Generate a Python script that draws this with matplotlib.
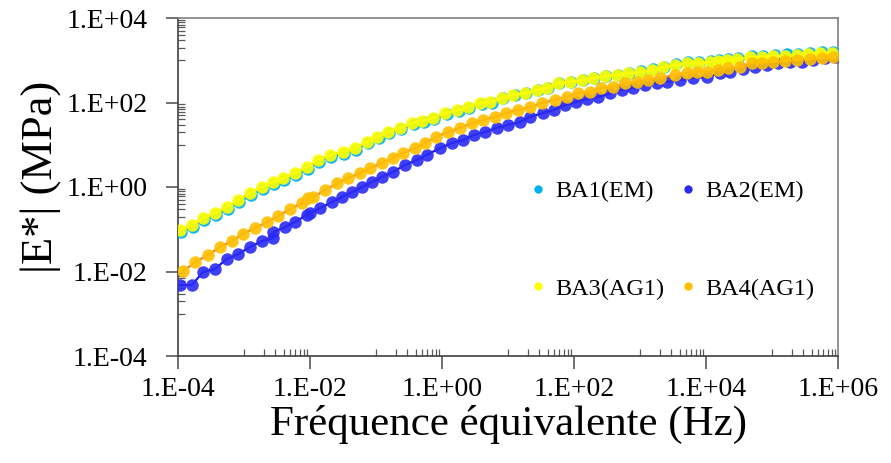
import matplotlib
matplotlib.use("Agg")
import matplotlib.pyplot as plt
from matplotlib.ticker import FixedLocator, NullFormatter
import numpy as np

plt.rcParams['font.family'] = ['Liberation Serif', 'DejaVu Serif']

# values, stored as log10(frequency) / log10(|E*|)
ba3_lf = [-3.97, -3.79, -3.62, -3.44, -3.26, -3.09, -2.91, -2.73, -2.56, -2.41, -2.23, -2.05,
          -1.88, -1.70, -1.50, -1.32, -1.14, -0.98, -0.82, -0.64, -0.45, -0.30, -0.14, 0.05,
          0.23, 0.39, 0.58, 0.73, 0.91, 1.08, 1.26, 1.44, 1.59, 1.76, 1.94, 2.12, 2.29, 2.47,
          2.65, 2.82, 3.00, 3.18, 3.35, 3.53, 3.71, 3.88, 4.06, 4.18, 4.32, 4.47, 4.67, 4.85,
          5.02, 5.20, 5.38, 5.55, 5.73, 5.91]
ba3_le = [-1.02, -0.90, -0.73, -0.62, -0.47, -0.31, -0.14, 0.00, 0.12, 0.21, 0.33, 0.47,
          0.64, 0.76, 0.83, 0.92, 1.07, 1.18, 1.30, 1.40, 1.51, 1.57, 1.63, 1.75,
          1.82, 1.89, 1.99, 2.01, 2.11, 2.18, 2.22, 2.30, 2.35, 2.46, 2.49, 2.53, 2.58, 2.63,
          2.65, 2.70, 2.72, 2.77, 2.83, 2.89, 2.93, 2.93, 2.96, 2.98, 3.01, 3.03, 3.08, 3.08,
          3.10, 3.10, 3.12, 3.15, 3.17, 3.17]

ba1_lf = [-3.95, -3.77, -3.60, -3.42, -3.24, -3.07, -2.89, -2.71, -2.54, -2.39, -2.21, -2.03,
          -1.86, -1.68, -1.48, -1.30, -1.12, -0.96, -0.80, -0.62, -0.43, -0.28, -0.12, 0.07,
          0.25, 0.41, 0.60, 0.75, 0.93, 1.10, 1.28, 1.46, 1.61, 1.78, 1.96, 2.14, 2.31, 2.49,
          2.67, 2.84, 3.02, 3.20, 3.37, 3.55, 3.73, 3.90, 4.08, 4.20, 4.34, 4.49, 4.69, 4.87,
          5.04, 5.22, 5.40, 5.57, 5.75, 5.93]
ba1_le = [-1.06, -0.95, -0.78, -0.67, -0.52, -0.36, -0.19, -0.05, 0.07, 0.16, 0.28, 0.42,
          0.60, 0.72, 0.79, 0.88, 1.04, 1.15, 1.27, 1.37, 1.48, 1.54, 1.60, 1.72,
          1.80, 1.87, 1.97, 2.00, 2.10, 2.17, 2.22, 2.30, 2.35, 2.46, 2.49, 2.53, 2.58, 2.63,
          2.66, 2.71, 2.74, 2.79, 2.85, 2.91, 2.95, 2.96, 2.99, 3.01, 3.04, 3.06, 3.10, 3.11,
          3.13, 3.14, 3.15, 3.17, 3.19, 3.20]

ba2_lf = [-3.97, -3.79, -3.62, -3.44, -3.26, -3.09, -2.91, -2.73, -2.56, -2.56, -2.38, -2.23,
          -2.05, -2.00, -1.85, -1.67, -1.52, -1.36, -1.21, -1.06, -0.91, -0.74, -0.56, -0.38,
          -0.23, -0.03, 0.15, 0.32, 0.48, 0.65, 0.83, 1.00, 1.18, 1.33, 1.53, 1.69, 1.86, 2.03,
          2.20, 2.37, 2.55, 2.72, 2.89, 3.07, 3.26, 3.41, 3.61, 3.80, 4.02, 4.21, 4.36, 4.56,
          4.74, 4.92, 5.09, 5.27, 5.45, 5.62, 5.80, 5.95]
ba2_le = [-2.32, -2.32, -2.01, -1.94, -1.70, -1.59, -1.42, -1.28, -1.21, -1.07, -0.95, -0.83,
          -0.66, -0.62, -0.50, -0.36, -0.24, -0.12, 0.00, 0.12, 0.24, 0.36, 0.52, 0.64,
          0.76, 0.92, 1.04, 1.11, 1.23, 1.30, 1.40, 1.47, 1.54, 1.66, 1.75, 1.82, 1.94, 2.01,
          2.08, 2.13, 2.22, 2.30, 2.34, 2.41, 2.46, 2.49, 2.53, 2.58, 2.60, 2.70, 2.72, 2.79,
          2.84, 2.89, 2.93, 2.96, 2.96, 3.01, 3.05, 3.08]

ba4_lf = [-3.92, -3.74, -3.55, -3.36, -3.18, -3.02, -2.83, -2.65, -2.48, -2.30, -2.12, -2.03,
          -1.95, -1.77, -1.59, -1.42, -1.24, -1.09, -0.91, -0.74, -0.59, -0.41, -0.26, -0.09,
          0.09, 0.27, 0.45, 0.62, 0.80, 0.97, 1.15, 1.33, 1.52, 1.71, 1.89, 2.06, 2.24, 2.41,
          2.59, 2.77, 2.95, 3.12, 3.30, 3.53, 3.71, 3.86, 4.02, 4.18, 4.33, 4.52, 4.70, 4.85,
          5.02, 5.20, 5.38, 5.58, 5.76, 5.92]
ba4_le = [-1.99, -1.78, -1.61, -1.42, -1.28, -1.11, -0.97, -0.83, -0.69, -0.52, -0.38, -0.26,
          -0.24, -0.07, 0.09, 0.21, 0.33, 0.45, 0.57, 0.69, 0.80, 0.92, 1.04, 1.18,
          1.30, 1.40, 1.51, 1.59, 1.66, 1.75, 1.82, 1.89, 1.99, 2.06, 2.13, 2.22, 2.25, 2.34,
          2.37, 2.46, 2.49, 2.53, 2.58, 2.65, 2.70, 2.72, 2.72, 2.77, 2.82, 2.84, 2.93, 2.93,
          2.96, 2.98, 3.01, 3.03, 3.05, 3.08]

labels = ['BA1(EM)', 'BA2(EM)', 'BA3(AG1)', 'BA4(AG1)']
dot_colors = ['#00B0F0', '#2B2BF5', '#FFFF00', '#FFC000']
line_colors = ['#00B0F0', '#1A1AE6', '#F2E600', '#ED7D31']

fig = plt.figure(figsize=(8.91, 4.63), dpi=100)
ax = fig.add_axes([178/891, 1-356/463, 660/891, 338/463])

series = [(ba1_lf, ba1_le), (ba2_lf, ba2_le), (ba3_lf, ba3_le), (ba4_lf, ba4_le)]
order = [1, 3, 0, 2]  # drawing order: blue, orange, cyan, yellow on top
for i in order:
    lf, le = series[i]
    f = np.power(10.0, lf)
    e = np.power(10.0, le)
    ax.plot(f, e, '-', color=line_colors[i], lw=1.6, zorder=2 + i)
    ax.plot(f, e, 'o', color=dot_colors[i], ms=9, mec='none', alpha=0.9, zorder=3 + i)

ax.set_xscale('log')
ax.set_yscale('log')
ax.set_xlim(1e-4, 1e6)
ax.set_ylim(1e-4, 1e4)

xmaj = [1e-4, 1e-2, 1e0, 1e2, 1e4, 1e6]
ymaj = [1e-4, 1e-2, 1e0, 1e2, 1e4]
xlab = ['1.E-04', '1.E-02', '1.E+00', '1.E+02', '1.E+04', '1.E+06']
ylab = ['1.E-04', '1.E-02', '1.E+00', '1.E+02', '1.E+04']
ax.xaxis.set_major_locator(FixedLocator(xmaj))
ax.yaxis.set_major_locator(FixedLocator(ymaj))
ax.set_xticklabels(xlab)
ax.set_yticklabels(ylab)

xmin = [k * 10.0 ** p for p in (-3, -1, 1, 3, 5) for k in range(1, 10)]
ymin = [k * 10.0 ** p for p in (-3, -1, 1, 3) for k in range(1, 10)]
ax.xaxis.set_minor_locator(FixedLocator(xmin))
ax.yaxis.set_minor_locator(FixedLocator(ymin))
ax.xaxis.set_minor_formatter(NullFormatter())
ax.yaxis.set_minor_formatter(NullFormatter())

ax.tick_params(which='major', direction='out', length=9, width=1.2, color='#595959',
               labelsize=20)
ax.tick_params(which='minor', direction='in', length=5, width=0.9, color='#595959')
ax.tick_params(axis='y', which='major', pad=13)
ax.tick_params(axis='x', which='major', pad=6)
for s in ax.spines.values():
    s.set_color('#7F7F7F')
    s.set_linewidth(1.2)
ax.spines['left'].set_color('#404040')
ax.spines['bottom'].set_color('#404040')

ax.set_xlabel('Fréquence équivalente (Hz)', fontsize=31, labelpad=2)
ax.set_ylabel('|E*| (MPa)', fontsize=32)
ax.yaxis.set_label_coords(-0.178, 0.53)

# legend filled column by column: BA1, BA3 | BA2, BA4
handles = [plt.Line2D([], [], ls='none', marker='o', ms=6, color=c, mec='none')
           for c in dot_colors]
leg_order = [0, 2, 1, 3]
ax.legend([handles[i] for i in leg_order], [labels[i] for i in leg_order], ncol=2,
          loc='upper left', bbox_to_anchor=(0.501, 0.584),
          frameon=False, fontsize=17.5, labelspacing=3.1, handlelength=0.6,
          handletextpad=0.4, columnspacing=0.7)

fig.savefig('out.png', dpi=100)
